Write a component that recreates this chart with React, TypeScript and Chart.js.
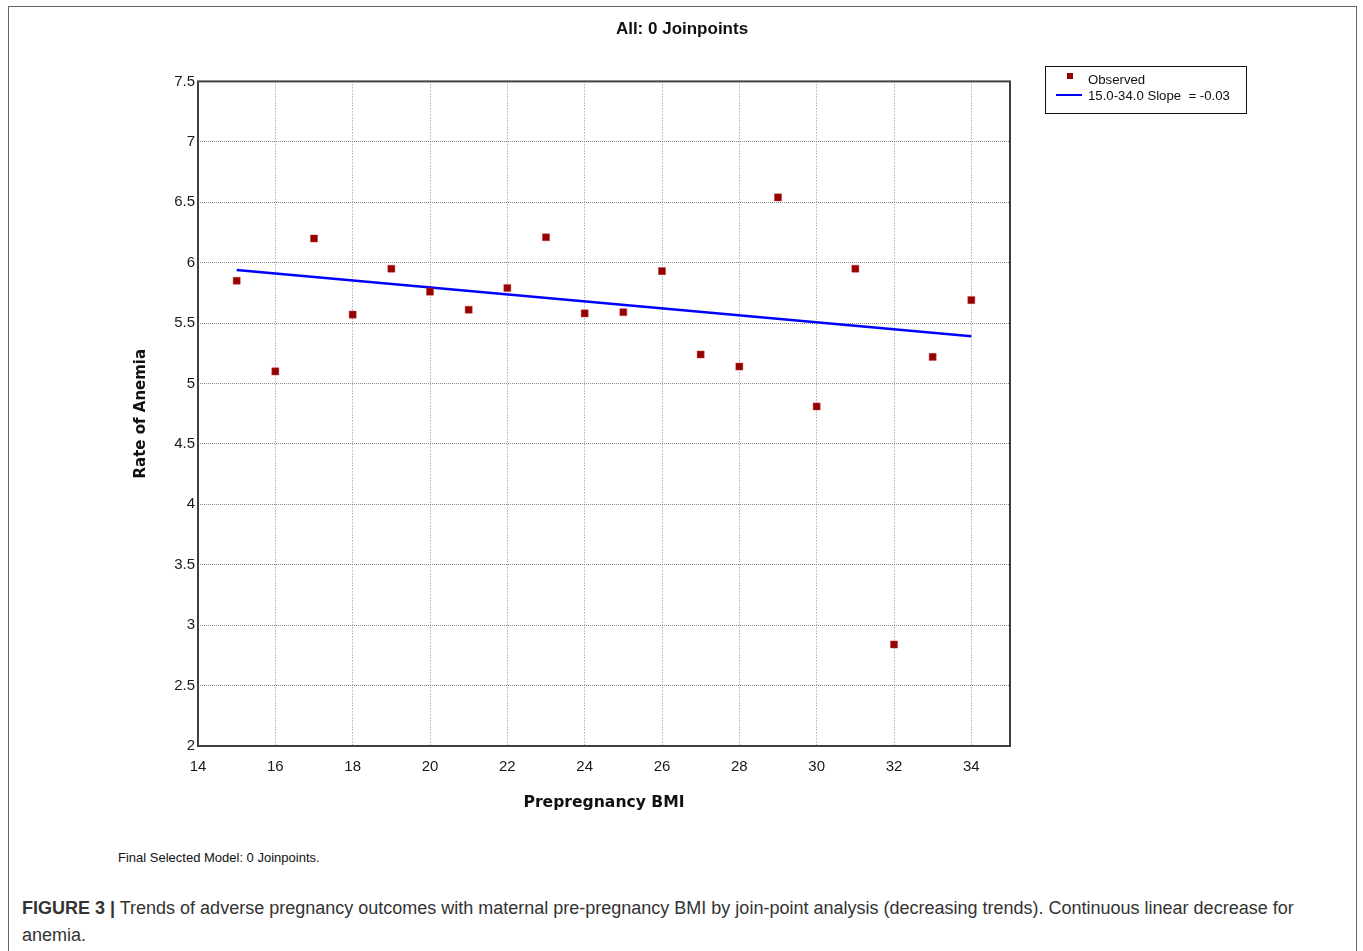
import React, { useEffect, useRef } from "react";
import { Chart, registerables } from "chart.js";

Chart.register(...registerables);

const bmiValues = [15, 16, 17, 18, 19, 20, 21, 22, 23, 24, 25, 26, 27, 28, 29, 30, 31, 32, 33, 34];
const anemiaRates = [5.85, 5.1, 6.2, 5.57, 5.95, 5.76, 5.61, 5.79, 6.21, 5.58, 5.59, 5.93, 5.24, 5.14, 6.54, 4.81, 5.95, 2.84, 5.22, 5.69];
const fitBmi = [15, 34];
const fitRates = [5.94, 5.39];
const xTickValues = [14, 16, 18, 20, 22, 24, 26, 28, 30, 32, 34];

const plotFrame = {
  id: "plotFrame",
  beforeDatasetsDraw(chart: any) {
    const { ctx, chartArea } = chart;
    ctx.save();
    ctx.strokeStyle = "#404040";
    ctx.lineWidth = 2;
    ctx.strokeRect(chartArea.left, chartArea.top, chartArea.right - chartArea.left, chartArea.bottom - chartArea.top);
    ctx.restore();
  },
};

export default function App() {
  const canvasRef = useRef<HTMLCanvasElement | null>(null);

  useEffect(() => {
    if (!canvasRef.current) return;
    const chart = new Chart(canvasRef.current, {
      type: "scatter",
      data: {
        datasets: [
          {
            label: "Observed",
            data: bmiValues.map((x, i) => ({ x, y: anemiaRates[i] })),
            backgroundColor: "#950000",
            borderColor: "rgba(190,60,60,0.45)",
            borderWidth: 1,
            pointStyle: "rect",
            pointRadius: 5,
          },
          {
            type: "line",
            label: "15.0-34.0 Slope  = -0.03",
            data: fitBmi.map((x, i) => ({ x, y: fitRates[i] })),
            borderColor: "#0000ff",
            borderWidth: 2.5,
            pointRadius: 0,
            showLine: true,
            fill: false,
          } as any,
        ],
      },
      options: {
        responsive: false,
        animation: false,
        devicePixelRatio: 1,
        layout: { padding: 0 },
        plugins: {
          legend: { display: false },
          tooltip: { enabled: false },
          title: {
            display: true,
            text: "All: 0 Joinpoints",
            color: "#111",
            font: { family: "'Liberation Sans', Arial, sans-serif", size: 17, weight: "bold" },
            padding: { top: 12, bottom: 42 },
          },
        },
        scales: {
          x: {
            type: "linear",
            min: 14,
            max: 35,
            afterBuildTicks: (scale: any) => {
              scale.ticks = xTickValues.map((v) => ({ value: v }));
            },
            afterFit: (scale: any) => {
              scale.height = 91;
            },
            grid: {
              color: "#888888",
              lineWidth: 1,
              drawTicks: false,
            },
            border: { display: false, dash: [1, 2] },
            ticks: {
              padding: 12,
              color: "#1a1a1a",
              font: { family: "'Liberation Sans', Arial, sans-serif", size: 15 },
              maxRotation: 0,
            },
            title: {
              display: true,
              text: "Prepregnancy BMI",
              color: "#111",
              font: { family: "'DejaVu Sans', Verdana, sans-serif", size: 15.6, weight: "bold" },
              padding: { top: 0, bottom: 25 },
            },
          },
          y: {
            type: "linear",
            position: "left",
            min: 2,
            max: 7.5,
            afterFit: (scale: any) => {
              scale.width = 189;
            },
            grid: {
              color: "#888888",
              lineWidth: 1,
              drawTicks: false,
            },
            border: { display: false, dash: [1, 1] },
            ticks: {
              stepSize: 0.5,
              padding: 3,
              color: "#1a1a1a",
              font: { family: "'Liberation Sans', Arial, sans-serif", size: 15 },
              callback: (v: any) => String(v),
            },
            title: {
              display: true,
              text: "Rate of Anemia",
              color: "#111",
              font: { family: "'DejaVu Sans', Verdana, sans-serif", size: 15, weight: "bold" },
              padding: { top: 123, bottom: 0 },
            },
          },
          yRight: {
            type: "linear",
            position: "right",
            min: 2,
            max: 7.5,
            afterFit: (scale: any) => {
              scale.width = 345;
            },
            grid: { display: false },
            border: { display: false },
            ticks: { display: false },
          },
        },
      },
      plugins: [plotFrame],
    });
    return () => chart.destroy();
  }, []);

  return (
    <div
      style={{
        position: "absolute",
        left: 8,
        top: 6,
        width: 1347,
        height: 960,
        border: "1px solid #666",
        borderBottom: "none",
        background: "#fff",
        fontFamily: "'Liberation Sans', Arial, sans-serif",
      }}
    >
      <canvas ref={canvasRef} width={1346} height={830} style={{ position: "absolute", left: 0, top: 0, width: 1346, height: 830 }} />
      <div
        style={{
          position: "absolute",
          left: 1036,
          top: 59,
          width: 202,
          height: 48,
          border: "1.5px solid #111",
          boxSizing: "border-box",
          fontSize: 13.2,
          color: "#111",
        }}
      >
        <div style={{ position: "absolute", left: 21, top: 6, width: 6, height: 6, background: "#950000" }} />
        <div style={{ position: "absolute", left: 10, top: 27, width: 26, height: 2, background: "#0000ff" }} />
        <div style={{ position: "absolute", left: 42, top: 5, whiteSpace: "nowrap", lineHeight: "16px" }}>Observed</div>
        <div style={{ position: "absolute", left: 42, top: 21, whiteSpace: "nowrap", lineHeight: "16px" }}>15.0-34.0 Slope&nbsp; = -0.03</div>
      </div>
      <div
        style={{
          position: "absolute",
          left: 109,
          top: 843,
          fontSize: 13,
          color: "#111",
          whiteSpace: "nowrap",
          lineHeight: "16px",
        }}
      >
        Final Selected Model: 0 Joinpoints.
      </div>
      <div
        style={{
          position: "absolute",
          left: 13,
          top: 888,
          fontSize: 18,
          color: "#333",
          whiteSpace: "nowrap",
          lineHeight: "27px",
        }}
      >
        <b>FIGURE 3 |</b> Trends of adverse pregnancy outcomes with maternal pre-pregnancy BMI by join-point analysis (decreasing trends). Continuous linear decrease for
        <br />
        anemia.
      </div>
    </div>
  );
}
